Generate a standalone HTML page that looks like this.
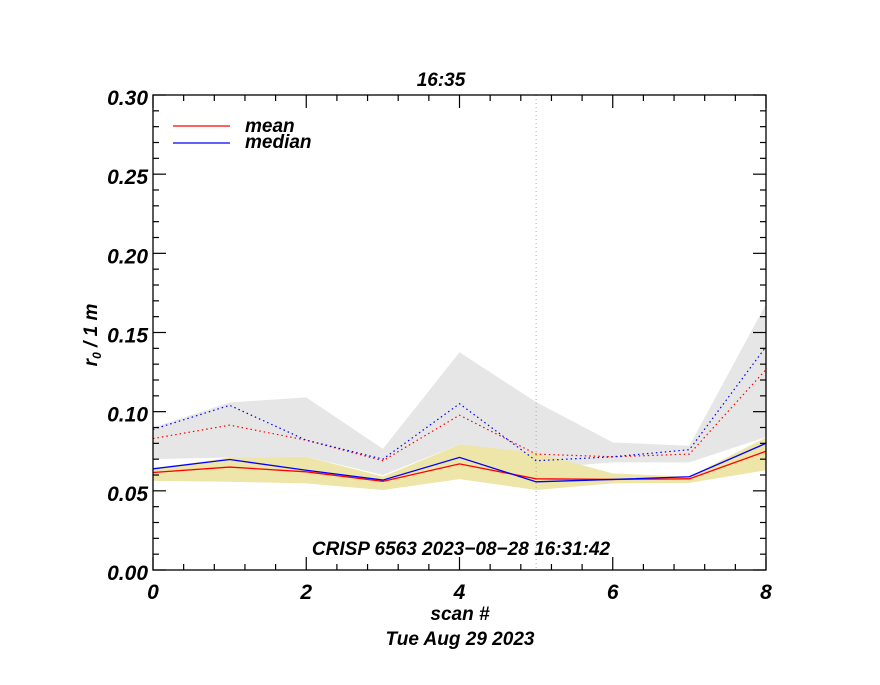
<!DOCTYPE html>
<html><head><meta charset="utf-8"><style>
body{margin:0;background:#fff}
svg text{font-family:"Liberation Sans",sans-serif;font-weight:bold;font-style:italic;fill:#000}
</style></head><body>
<svg id="chart" width="880" height="680" xmlns="http://www.w3.org/2000/svg">
<g id="bands"></g><g id="lines"></g><g id="axes"></g>
<text x="441" y="86" font-size="19" text-anchor="middle">16:35</text>
<text x="461" y="555" font-size="19" text-anchor="middle">CRISP 6563 2023−08−28 16:31:42</text>
<text x="460" y="620" font-size="19" text-anchor="middle">scan #</text>
<text x="460" y="645" font-size="19" text-anchor="middle">Tue Aug 29 2023</text>
<text transform="translate(97,335) rotate(-90)" font-size="19" text-anchor="middle">r<tspan font-size="12" dy="4">0</tspan><tspan dy="-4"> / 1 m</tspan></text>
<g>
<line x1="173" y1="126" x2="230" y2="126" stroke="#ff0000" stroke-width="1.3"/>
<text x="245" y="132" font-size="19">mean</text>
<line x1="173" y1="143" x2="230" y2="143" stroke="#0000ff" stroke-width="1.3"/>
<text x="245" y="148" font-size="19">median</text>
</g>
</svg>
<script>
const scans=[0,1,2,3,4,5,6,7,8];
const medianSolid=[0.0639,0.0698,0.063,0.0568,0.0711,0.0557,0.0572,0.0589,0.080];
const meanSolid=[0.0616,0.065,0.062,0.056,0.067,0.0576,0.0572,0.0576,0.075];
const medianDotted=[0.0888,0.104,0.082,0.070,0.105,0.069,0.0715,0.076,0.141];
const meanDotted=[0.083,0.0915,0.082,0.069,0.0978,0.0732,0.0715,0.0732,0.1266];
const grayUpper=[0.090,0.1058,0.109,0.0765,0.1375,0.106,0.0806,0.0784,0.168];
const grayLower=[0.070,0.071,0.0715,0.060,0.0793,0.064,0.068,0.068,0.084];
const yellowUpper=[0.064,0.071,0.0715,0.059,0.0793,0.074,0.061,0.059,0.0837];
const yellowLower=[0.0563,0.0557,0.0547,0.0505,0.0574,0.0505,0.0547,0.055,0.063];
const yTicks=[0,0.05,0.10,0.15,0.20,0.25,0.30];
const yTickLabels=["0.00","0.05","0.10","0.15","0.20","0.25","0.30"];
const xTicks=[0,2,4,6,8];
const L=153,R=766,T=95,B=570;
const xs=v=>L+(v/8)*(R-L);
const ys=v=>B-(v/0.30)*(B-T);
const NS="http://www.w3.org/2000/svg";
function mk(tag,parent,attrs){const e=document.createElementNS(NS,tag);for(const k in attrs)e.setAttribute(k,attrs[k]);parent.appendChild(e);return e;}
const bands=document.getElementById('bands'),lines=document.getElementById('lines'),axes=document.getElementById('axes');
function band(up,lo,fill,name){
  let p=scans.map((s,i)=>xs(s)+','+ys(up[i])).concat(scans.slice().reverse().map((s,j)=>{const i=scans.length-1-j;return xs(s)+','+ys(lo[i]);}));
  const e=mk('polygon',bands,{points:p.join(' '),fill:fill});
  
  
}
band(grayUpper,grayLower,'#e6e6e6','gray-band');
band(yellowUpper,yellowLower,'#eee5a8','yellow-band');
const vl=mk('line',lines,{x1:xs(5),x2:xs(5),y1:T,y2:B,stroke:'#aaa','stroke-width':1,'stroke-dasharray':'1,3'});


function line(vals,col,dash,name){
  const e=mk('polyline',lines,{points:scans.map((s,i)=>xs(s)+','+ys(vals[i])).join(' '),fill:'none',stroke:col,'stroke-width':dash?1.2:1.3});
  if(dash)e.setAttribute('stroke-dasharray','1.5,3');
  
  
}
line(meanDotted,'#f00',true,'mean-dotted-line');
line(medianDotted,'#00f',true,'median-dotted-line');
line(meanSolid,'#f00',false,'mean-line');
line(medianSolid,'#00f',false,'median-line');
const frame=mk('rect',axes,{x:L,y:T,width:R-L,height:B-T,fill:'none',stroke:'#000','stroke-width':1.3});


for(let v=0;v<=0.3001;v+=0.01){
  const major=Math.abs(v/0.05-Math.round(v/0.05))<1e-6;const len=major?13:6;const y=ys(v);
  mk('line',axes,{x1:L,x2:L+len,y1:y,y2:y,stroke:'#000','stroke-width':1.2});
  mk('line',axes,{x1:R,x2:R-len,y1:y,y2:y,stroke:'#000','stroke-width':1.2});
}
for(let v=0;v<=8.001;v+=0.4){
  const major=Math.abs(v/2-Math.round(v/2))<1e-6;const len=major?13:6;const x=xs(v);
  mk('line',axes,{x1:x,x2:x,y1:B,y2:B-len,stroke:'#000','stroke-width':1.2});
  mk('line',axes,{x1:x,x2:x,y1:T,y2:T+len,stroke:'#000','stroke-width':1.2});
}
yTicks.forEach((v,i)=>{const t=mk('text',axes,{x:L-5,y:ys(v)+10,'font-size':21,'text-anchor':'end'});t.textContent=yTickLabels[i];
  
  });
xTicks.forEach(v=>{const t=mk('text',axes,{x:xs(v),y:599,'font-size':21,'text-anchor':'middle'});t.textContent=String(v);
  
  });
</script>
</body></html>
